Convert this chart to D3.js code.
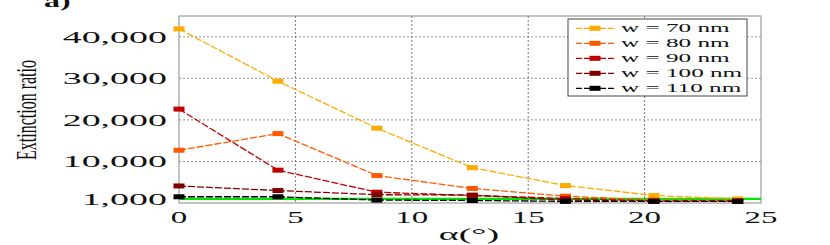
<!DOCTYPE html>
<html>
<head>
<meta charset="utf-8">
<script src="https://cdn.jsdelivr.net/npm/d3@7"></script>
<style>
  body { margin: 0; background: #fff; }
  text { font-family: "Liberation Serif", "DejaVu Serif", serif; }
</style>
</head>
<body>
<div id="chart"></div>
<script>
// data
const alpha = [0, 4.25, 8.5, 12.6, 16.6, 20.4, 24];
const widths = ["w = 70 nm", "w = 80 nm", "w = 90 nm", "w = 100 nm", "w = 110 nm"];
const w70 = [41900, 29300, 18000, 8500, 4200, 1800, 1000];
const w80 = [12700, 16700, 6600, 3500, 1650, 700, 600];
const w90 = [22600, 7900, 2600, 1800, 1100, 500, 500];
const w100 = [4100, 3000, 2000, 1900, 700, 400, 400];
const w110 = [1500, 1500, 700, 600, 400, 400, 400];
const colors = ["#ffaa00", "#ff5a00", "#c00000", "#800000", "#000000"];
const yTicks = [1000, 10000, 20000, 30000, 40000];
const xTicks = [0, 5, 10, 15, 20, 25];
const threshold = 1000;

const series = [w70, w80, w90, w100, w110];

const W = 830, H = 245;
const mLeft = 179, mRight = 761, mTop = 16, mBottom = 203;

let svg = d3.select("#chart").append("svg")
  .attr("width", W)
  .attr("height", H)

let xScale = d3.scaleLinear().domain([0, 25]).range([mLeft, mRight])
let yScale = d3.scaleLinear().domain([0, 45000]).range([mBottom, mTop])

// grid lines
svg.append("g").selectAll("line")
  .data(yTicks.filter(d => d > threshold))
  .enter().append("line")
  .attr("x1", mLeft).attr("x2", mRight)
  .attr("y1", d => yScale(d)).attr("y2", d => yScale(d))
  .attr("stroke", "#777")
  .attr("stroke-width", 0.8)
  .attr("stroke-dasharray", "2,2")

svg.append("g").selectAll("line")
  .data(xTicks.filter(d => d > 0 && d < 25))
  .enter().append("line")
  .attr("x1", d => xScale(d)).attr("x2", d => xScale(d))
  .attr("y1", mTop).attr("y2", mBottom)
  .attr("stroke", "#555")
  .attr("stroke-width", 0.8)
  .attr("stroke-dasharray", "2,2")

// frame
svg.append("rect")
  .attr("x", mLeft).attr("y", mTop)
  .attr("width", mRight - mLeft).attr("height", mBottom - mTop)
  .attr("fill", "none")
  .attr("stroke", "#888")
  .attr("stroke-width", 1)

// axes (labels only, stretched like the original)
let yAxis = d3.axisLeft(yScale).tickValues(yTicks).tickFormat(d3.format(",")).tickSize(0)
let gy = svg.append("g")
  .attr("transform", "translate(" + mLeft + ",0)")
  .call(yAxis)
gy.select(".domain").remove()
gy.selectAll("text")
  .attr("x", -12 / 2.3)
  .attr("font-size", 16.5)
  .attr("font-family", "Liberation Serif")
  .attr("fill", "#111")
  .attr("transform", "scale(2.3,1)")

let xAxis = d3.axisBottom(xScale).tickValues(xTicks).tickSize(0)
let gx = svg.append("g")
  .attr("transform", "translate(0," + mBottom + ")")
  .call(xAxis)
gx.select(".domain").remove()
gx.selectAll("text")
  .attr("y", 20)
  .attr("dy", 0)
  .attr("font-size", 16.5)
  .attr("font-family", "Liberation Serif")
  .attr("fill", "#111")
  .attr("transform", "scale(2.0,1)")
// move ticks' x so the scaled text stays centred
gx.selectAll(".tick").each(function (d) {
  d3.select(this).attr("transform", null)
  d3.select(this).select("text").attr("x", xScale(d) / 2.0)
})

// threshold line
svg.append("line")
  .attr("x1", mLeft).attr("x2", mRight)
  .attr("y1", yScale(threshold)).attr("y2", yScale(threshold))
  .attr("stroke", "#00e600")
  .attr("stroke-width", 2.2)

// series lines + markers
let line = d3.line()
  .x((d, i) => xScale(alpha[i]))
  .y(d => yScale(d))

series.forEach((s, k) => {
  svg.append("path")
    .datum(s)
    .attr("d", line)
    .attr("fill", "none")
    .attr("stroke", colors[k])
    .attr("stroke-width", 1.3)
    .attr("stroke-dasharray", "7,2")
  svg.append("g").selectAll("rect")
    .data(s)
    .enter().append("rect")
    .attr("x", (d, i) => xScale(alpha[i]) - 5.5)
    .attr("y", d => yScale(d) - 2.5)
    .attr("width", 11)
    .attr("height", 5)
    .attr("fill", colors[k])
})

// legend
let legend = svg.append("g")
legend.append("rect")
  .attr("x", 568).attr("y", 19)
  .attr("width", 179).attr("height", 77)
  .attr("fill", "#fff")
  .attr("stroke", "#444")
  .attr("stroke-width", 1)

widths.forEach((w, k) => {
  let y = 28.3 + k * 15
  legend.append("line")
    .attr("x1", 576).attr("x2", 614)
    .attr("y1", y).attr("y2", y)
    .attr("stroke", colors[k])
    .attr("stroke-width", 1.3)
    .attr("stroke-dasharray", "6,2")
  legend.append("rect")
    .attr("x", 589.5).attr("y", y - 2.5)
    .attr("width", 11).attr("height", 5)
    .attr("fill", colors[k])
  legend.append("text")
    .attr("x", 621 / 2.1)
    .attr("y", y + 4)
    .attr("font-size", 12)
    .attr("fill", "#111")
    .attr("transform", "scale(2.1,1)")
    .text(w)
})

// axis titles
svg.append("text")
  .attr("transform", "translate(469,240) scale(2.3,1)")
  .attr("text-anchor", "middle")
  .attr("font-size", 16.5)
  .attr("fill", "#111")
  .text("α(°)")

svg.append("text")
  .attr("transform", "translate(36,110) scale(1.8,1) rotate(-90)")
  .attr("text-anchor", "middle")
  .attr("font-size", 16)
  .attr("fill", "#111")
  .text("Extinction ratio")

svg.append("text")
  .attr("transform", "translate(44,7) scale(2,1)")
  .attr("font-size", 16)
  .attr("font-weight", "bold")
  .attr("fill", "#111")
  .text("a)")
</script>
</body>
</html>
